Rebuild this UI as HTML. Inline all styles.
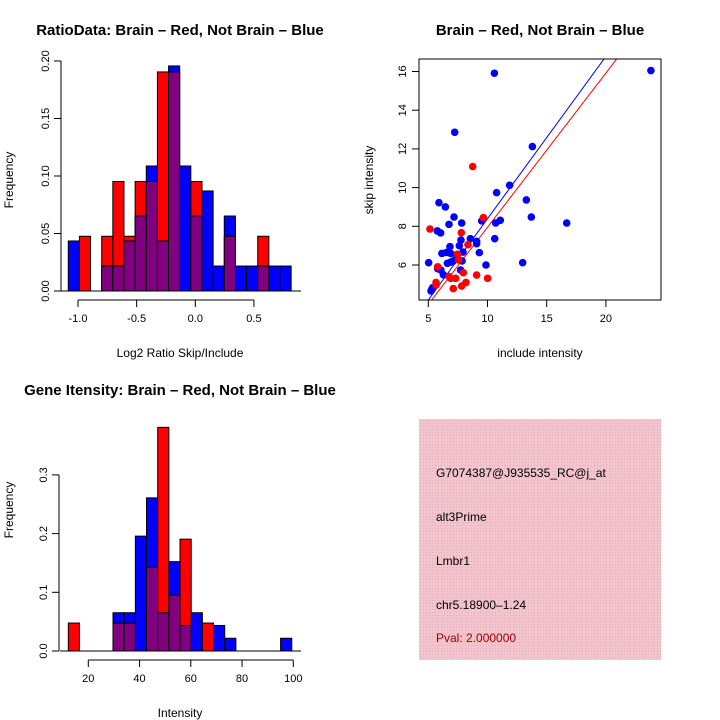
<!DOCTYPE html>
<html><head><meta charset="utf-8">
<style>
html,body{margin:0;padding:0;background:#fff;}
svg{display:block;font-family:"Liberation Sans",sans-serif;}
</style></head>
<body>
<svg id="chart" width="720" height="720" viewBox="0 0 720 720" xmlns="http://www.w3.org/2000/svg">
<rect x="0" y="0" width="720" height="720" fill="#fff"/>
<text x="180" y="35" text-anchor="middle" font-size="15" font-weight="bold">RatioData: Brain – Red, Not Brain – Blue</text>
<text x="540" y="35" text-anchor="middle" font-size="15" font-weight="bold">Brain – Red, Not Brain – Blue</text>
<text x="180" y="395" text-anchor="middle" font-size="15" font-weight="bold">Gene Itensity: Brain – Red, Not Brain – Blue</text>
<text x="180" y="357" text-anchor="middle" font-size="12">Log2 Ratio Skip/Include</text>
<text transform="translate(13,180) rotate(-90)" text-anchor="middle" font-size="12">Frequency</text>
<text x="540" y="357" text-anchor="middle" font-size="12">include intensity</text>
<text transform="translate(373,180) rotate(-90)" text-anchor="middle" font-size="12">skip intensity</text>
<text x="180" y="717" text-anchor="middle" font-size="12">Intensity</text>
<text transform="translate(13,510) rotate(-90)" text-anchor="middle" font-size="12">Frequency</text>
<g>
<defs><pattern id="hatch" width="3" height="3" patternUnits="userSpaceOnUse"><rect width="3" height="3" fill="#f2c4ce"/><rect width="1" height="1" fill="#e8a9b8"/></pattern></defs>
<rect x="419" y="419" width="242" height="241" fill="url(#hatch)"/>
<text x="436" y="477" font-size="12">G7074387@J935535_RC@j_at</text>
<text x="436" y="521" font-size="12">alt3Prime</text>
<text x="436" y="565" font-size="12">Lmbr1</text>
<text x="436" y="609" font-size="12">chr5.18900–1.24</text>
<text x="436" y="642" font-size="12" fill="#a00000">Pval: 2.000000</text>
</g>
<g id="plots"></g>
</svg>
<script>
// ---- Ratio histogram data ----
const ratioBreaks = [-1.083,-0.988,-0.893,-0.798,-0.703,-0.608,-0.513,-0.418,-0.323,-0.228,-0.133,-0.038,0.057,0.152,0.247,0.342,0.437,0.532,0.627,0.722,0.817];
const ratioBlue = [0.0435,0,0,0.0217,0.0217,0.0435,0.0652,0.1087,0.0435,0.1957,0.1087,0.0652,0.087,0.0217,0.0652,0.0217,0.0217,0.0217,0.0217,0.0217];
const ratioRed = [0,0.0476,0,0.0476,0.0952,0.0476,0.0952,0.0952,0.1905,0.1905,0,0.0952,0,0,0.0476,0,0,0.0476,0,0];
const ratioXTicks = [-1.0,-0.5,0.0,0.5];
const ratioXLabels = ["-1.0","-0.5","0.0","0.5"];
const ratioYTicks = [0,0.05,0.10,0.15,0.20];
const ratioYLabels = ["0.00","0.05","0.10","0.15","0.20"];
// ---- Intensity histogram data ----
const intBreaks = [12.2,16.56,20.92,25.28,29.64,34.0,38.36,42.72,47.08,51.44,55.8,60.16,64.52,68.88,73.24,77.6,81.96,86.32,90.68,95.04,99.4];
const intBlue = [0,0,0,0,0.0652,0.0652,0.1957,0.2609,0.0652,0.1522,0.0435,0.0652,0,0.0435,0.0217,0,0,0,0,0.0217];
const intRed = [0.0476,0,0,0,0.0476,0.0476,0,0.1429,0.381,0.0952,0.1905,0,0.0476,0,0,0,0,0,0,0];
const intXTicks = [20,40,60,80,100];
const intYTicks = [0,0.1,0.2,0.3];
const intYLabels = ["0.0","0.1","0.2","0.3"];
// ---- Scatter data ----
const blueX = [10.58,7.23,13.79,11.87,10.77,13.28,5.90,6.44,13.70,16.69,7.17,7.82,6.75,9.51,10.69,11.08,5.76,6.04,10.61,8.55,7.76,9.08,9.08,6.83,7.62,7.93,6.15,6.55,6.89,9.31,5.03,6.61,7.11,7.85,9.87,12.97,5.79,6.06,7.73,6.27,5.37,5.23,7.4,6.9,5.3,23.8];
const blueY = [15.91,12.86,12.12,10.12,9.74,9.36,9.22,9.0,8.48,8.17,8.48,8.17,8.10,8.28,8.17,8.31,7.76,7.66,7.36,7.36,7.29,7.22,7.10,6.95,7.0,6.67,6.60,6.65,6.60,6.64,6.12,6.09,6.21,6.21,6.0,6.12,5.81,5.74,5.74,5.5,4.83,4.66,6.5,6.15,4.75,16.05];
const redX = [8.75,5.14,7.79,9.65,8.35,7.45,5.79,7.96,9.08,6.75,7.31,10.01,5.65,8.18,5.65,7.11,7.82,7.56,6.89];
const redY = [11.09,7.86,7.67,8.45,7.05,6.55,5.91,5.60,5.48,5.40,5.31,5.31,5.10,5.10,4.97,4.78,4.91,6.26,5.31];
const blueFit = [0,0.839];
const redFit = [-0.02,0.797];
const scXTicks = [5,10,15,20];
const scYTicks = [6,8,10,12,14,16];

const NS="http://www.w3.org/2000/svg";
const root=document.getElementById('plots');
function mk(tag,attrs,parent){const e=document.createElementNS(NS,tag);for(const k in attrs)e.setAttribute(k,attrs[k]);(parent||root).appendChild(e);return e;}

function hist(breaks,blue,red,xs,ys,g){
  for(let i=0;i<blue.length;i++){
    const x0=xs(breaks[i]),x1=xs(breaks[i+1]);
    const b=blue[i],r=red[i];
    const hi=Math.max(b,r),lo=Math.min(b,r);
    if(hi>0){
      const el=mk('rect',{x:x0,y:ys(hi),width:x1-x0,height:ys(0)-ys(hi),fill:b>=r?'#0000ff':'#ff0000',stroke:'#000','stroke-width':1},g);
      
      
    }
    if(lo>0){
      const el=mk('rect',{x:x0,y:ys(lo),width:x1-x0,height:ys(0)-ys(lo),fill:'#800080',stroke:'#000','stroke-width':1},g);
      
      
    }
  }
}
function yAxis(x,ticks,labels,ys,g){
  mk('line',{x1:x,x2:x,y1:ys(ticks[0]),y2:ys(ticks[ticks.length-1]),stroke:'#000'},g);
  ticks.forEach((t,i)=>{
    mk('line',{x1:x-7,x2:x,y1:ys(t),y2:ys(t),stroke:'#000'},g);
    const tx=mk('text',{transform:`translate(${x-12},${ys(t)}) rotate(-90)`,'text-anchor':'middle','font-size':11},g);
    tx.textContent=labels[i];
  });
}
function xAxis(y,ticks,labels,xs,g){
  mk('line',{x1:xs(ticks[0]),x2:xs(ticks[ticks.length-1]),y1:y,y2:y,stroke:'#000'},g);
  ticks.forEach((t,i)=>{
    mk('line',{x1:xs(t),x2:xs(t),y1:y,y2:y+7,stroke:'#000'},g);
    const tx=mk('text',{x:xs(t),y:y+22,'text-anchor':'middle','font-size':11},g);
    tx.textContent=labels[i];
  });
}

// Ratio histogram
{
  const g=mk('g',{});
  
  
  const xs=v=>78+(v+1)*117.3, ys=v=>291-v*1150;
  hist(ratioBreaks,ratioBlue,ratioRed,xs,ys,g);
  mk('line',{x1:60,x2:301,y1:291,y2:291,stroke:'#000'},g);
  xAxis(300,ratioXTicks,ratioXLabels,xs,g);
  yAxis(61,ratioYTicks,ratioYLabels,ys,g);
}
// Intensity histogram
{
  const g=mk('g',{});
  
  
  const xs=v=>88.3+(v-20)*2.5625, ys=v=>651-v*587;
  hist(intBreaks,intBlue,intRed,xs,ys,g);
  mk('line',{x1:60,x2:301,y1:651,y2:651,stroke:'#000'},g);
  xAxis(660,intXTicks,intXTicks.map(String),xs,g);
  yAxis(59,intYTicks,intYLabels,ys,g);
}
// Scatter
{
  const g=mk('g',{});
  
  
  const xs=v=>428.3+(v-5)*11.84, ys=v=>265-(v-6)*19.35;
  const cp=mk('clipPath',{id:'scclip'},g);
  mk('rect',{x:419,y:59,width:242,height:241},cp);
  const lg=mk('g',{'clip-path':'url(#scclip)'},g);
  [[blueFit,'#0000ff','blue-fit-line'],[redFit,'#ff0000','red-fit-line']].forEach(([f,c,n])=>{
    const l=mk('line',{x1:xs(3),y1:ys(f[0]+f[1]*3),x2:xs(26),y2:ys(f[0]+f[1]*26),stroke:c,'stroke-width':1},lg);
    
    
  });
  blueX.forEach((x,i)=>{
    const c=mk('circle',{cx:xs(x),cy:ys(blueY[i]),r:3.8,fill:'#0000ff'},lg);
    
    
  });
  redX.forEach((x,i)=>{
    const c=mk('circle',{cx:xs(x),cy:ys(redY[i]),r:3.8,fill:'#ff0000'},lg);
    
    
  });
  mk('rect',{x:419,y:59,width:242,height:241,fill:'none',stroke:'#000'},g);
  scXTicks.forEach(t=>{
    mk('line',{x1:xs(t),x2:xs(t),y1:300,y2:307,stroke:'#000'},g);
    const tx=mk('text',{x:xs(t),y:322,'text-anchor':'middle','font-size':11},g);
    tx.textContent=String(t);
  });
  scYTicks.forEach(t=>{
    mk('line',{x1:412,x2:419,y1:ys(t),y2:ys(t),stroke:'#000'},g);
    const tx=mk('text',{transform:`translate(406,${ys(t)}) rotate(-90)`,'text-anchor':'middle','font-size':11},g);
    tx.textContent=String(t);
  });
}
</script>
</body></html>
